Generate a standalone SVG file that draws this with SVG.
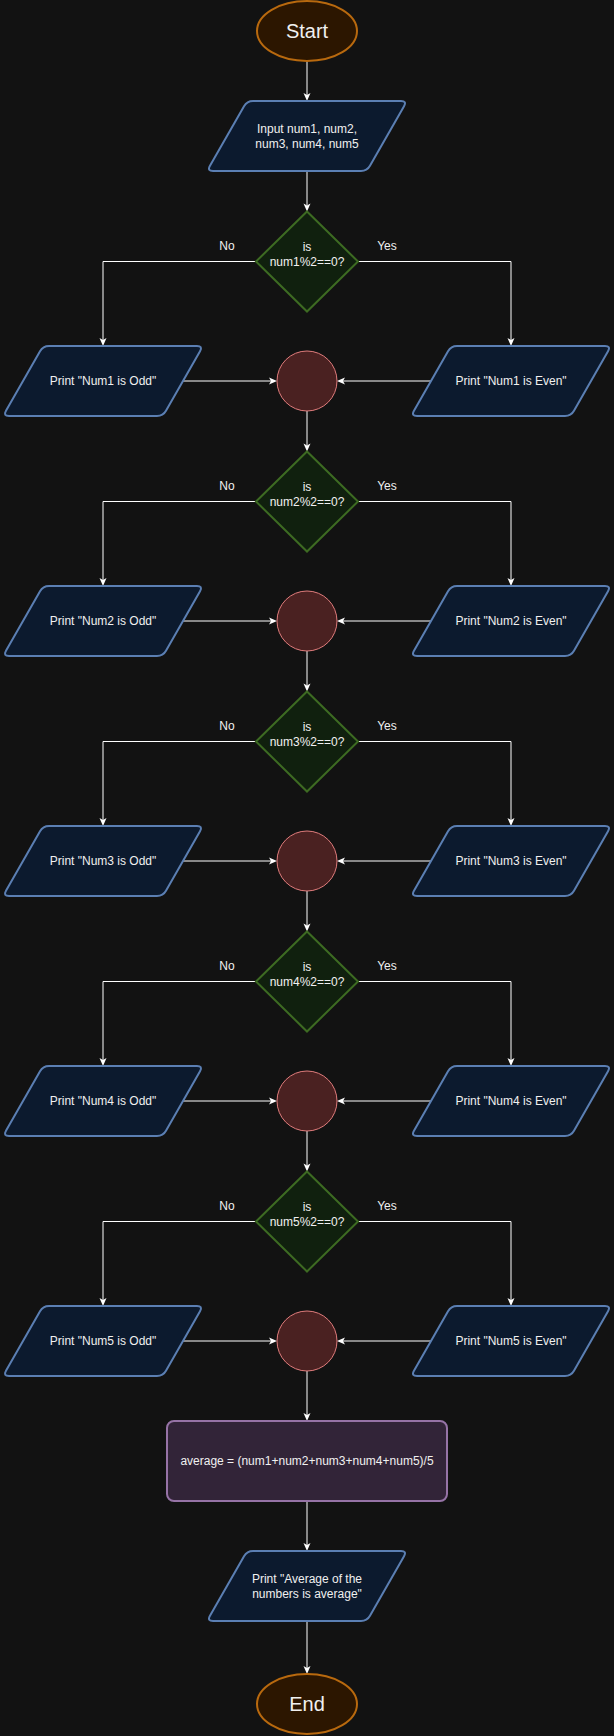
<svg xmlns="http://www.w3.org/2000/svg" xmlns:xlink="http://www.w3.org/1999/xlink" width="614" height="1736" viewBox="0 0 614 1736">
  <style>
    text { font-family: "Liberation Sans", Arial, sans-serif; font-size: 12px; fill: #f0f0f0; text-anchor: middle; }
    .big { font-size: 20px; }
    .term { fill: #2c1600; stroke: #b8690e; stroke-width: 2; }
    .io { fill: #0c1a2e; stroke: #5b7fb3; stroke-width: 2; }
    .dec { fill: #10200e; stroke: #3d6b22; stroke-width: 2; }
    .join { fill: #4a2121; stroke: #e07c7c; stroke-width: 1; }
    .proc { fill: #322438; stroke: #9673a6; stroke-width: 2; }
    .edge { fill: none; stroke: #ffffff; stroke-width: 1; marker-end: url(#arrow); }
  </style>
  <defs>
    <marker id="arrow" markerUnits="userSpaceOnUse" viewBox="-3 -5 12 10" refX="0" refY="0" markerWidth="12" markerHeight="10" orient="auto">
      <path d="M-2,-3.5 L6,0 L-2,3.5 L0,0 Z" fill="#ffffff"/>
    </marker>
    <!-- 200x70 parallelogram with rounded corners, centred on the origin -->
    <path id="para" d="M-54,-35 L94,-35 Q100,-35 97.02,-29.79 L62.98,29.79 Q60,35 54,35 L-94,35 Q-100,35 -97.02,29.79 L-62.98,-29.79 Q-60,-35 -54,-35 Z"/>
    <!-- decision diamond centred on the origin -->
    <polygon id="diamond" points="0,-50 51,0 0,50 -51,0"/>
  </defs>

  <rect x="0" y="0" width="614" height="1736" fill="#121212"/>

  <g id="connectors">
    <path class="edge" d="M307,61 V95"/>
    <path class="edge" d="M307,171 V205.5"/>
    <!-- check 1 -->
    <path class="edge" d="M256,261.5 H103 V340"/>
    <path class="edge" d="M358,261.5 H511 V340"/>
    <path class="edge" d="M183,381 H271"/>
    <path class="edge" d="M431,381 H343"/>
    <path class="edge" d="M307,411 V445.5"/>
    <!-- check 2 -->
    <path class="edge" d="M256,501.5 H103 V580"/>
    <path class="edge" d="M358,501.5 H511 V580"/>
    <path class="edge" d="M183,621 H271"/>
    <path class="edge" d="M431,621 H343"/>
    <path class="edge" d="M307,651 V685.5"/>
    <!-- check 3 -->
    <path class="edge" d="M256,741.5 H103 V820"/>
    <path class="edge" d="M358,741.5 H511 V820"/>
    <path class="edge" d="M183,861 H271"/>
    <path class="edge" d="M431,861 H343"/>
    <path class="edge" d="M307,891 V925.5"/>
    <!-- check 4 -->
    <path class="edge" d="M256,981.5 H103 V1060"/>
    <path class="edge" d="M358,981.5 H511 V1060"/>
    <path class="edge" d="M183,1101 H271"/>
    <path class="edge" d="M431,1101 H343"/>
    <path class="edge" d="M307,1131 V1165.5"/>
    <!-- check 5 -->
    <path class="edge" d="M256,1221.5 H103 V1300"/>
    <path class="edge" d="M358,1221.5 H511 V1300"/>
    <path class="edge" d="M183,1341 H271"/>
    <path class="edge" d="M431,1341 H343"/>
    <path class="edge" d="M307,1371 V1415"/>
    <!-- tail -->
    <path class="edge" d="M307,1501 V1545"/>
    <path class="edge" d="M307,1621 V1668"/>
    <!-- branch labels -->
    <text x="227" y="249.5">No</text><text x="387" y="249.5">Yes</text>
    <text x="227" y="489.5">No</text><text x="387" y="489.5">Yes</text>
    <text x="227" y="729.5">No</text><text x="387" y="729.5">Yes</text>
    <text x="227" y="969.5">No</text><text x="387" y="969.5">Yes</text>
    <text x="227" y="1209.5">No</text><text x="387" y="1209.5">Yes</text>
  </g>

  <g id="start">
    <ellipse class="term" cx="307" cy="31" rx="50" ry="30"/>
    <text class="big" x="307" y="38">Start</text>
  </g>

  <g id="input">
    <use href="#para" class="io" x="307" y="136"/>
    <text x="307" y="133">Input num1, num2,</text>
    <text x="307" y="147.5">num3, num4, num5</text>
  </g>

  <!-- check 1 -->
  <g id="check1">
    <use href="#diamond" class="dec" x="307" y="261.5"/>
    <text x="307" y="251">is</text>
    <text x="307" y="265.5">num1%2==0?</text>
  </g>
  <g id="odd1"><use href="#para" class="io" x="103" y="381"/><text x="103" y="385.3">Print "Num1 is Odd"</text></g>
  <g id="even1"><use href="#para" class="io" x="511" y="381"/><text x="511" y="385.3">Print "Num1 is Even"</text></g>
  <g id="join1"><circle class="join" cx="307" cy="381" r="30"/></g>

  <!-- check 2 -->
  <g id="check2">
    <use href="#diamond" class="dec" x="307" y="501.5"/>
    <text x="307" y="491">is</text>
    <text x="307" y="505.5">num2%2==0?</text>
  </g>
  <g id="odd2"><use href="#para" class="io" x="103" y="621"/><text x="103" y="625.3">Print "Num2 is Odd"</text></g>
  <g id="even2"><use href="#para" class="io" x="511" y="621"/><text x="511" y="625.3">Print "Num2 is Even"</text></g>
  <g id="join2"><circle class="join" cx="307" cy="621" r="30"/></g>

  <!-- check 3 -->
  <g id="check3">
    <use href="#diamond" class="dec" x="307" y="741.5"/>
    <text x="307" y="731">is</text>
    <text x="307" y="745.5">num3%2==0?</text>
  </g>
  <g id="odd3"><use href="#para" class="io" x="103" y="861"/><text x="103" y="865.3">Print "Num3 is Odd"</text></g>
  <g id="even3"><use href="#para" class="io" x="511" y="861"/><text x="511" y="865.3">Print "Num3 is Even"</text></g>
  <g id="join3"><circle class="join" cx="307" cy="861" r="30"/></g>

  <!-- check 4 -->
  <g id="check4">
    <use href="#diamond" class="dec" x="307" y="981.5"/>
    <text x="307" y="971">is</text>
    <text x="307" y="985.5">num4%2==0?</text>
  </g>
  <g id="odd4"><use href="#para" class="io" x="103" y="1101"/><text x="103" y="1105.3">Print "Num4 is Odd"</text></g>
  <g id="even4"><use href="#para" class="io" x="511" y="1101"/><text x="511" y="1105.3">Print "Num4 is Even"</text></g>
  <g id="join4"><circle class="join" cx="307" cy="1101" r="30"/></g>

  <!-- check 5 -->
  <g id="check5">
    <use href="#diamond" class="dec" x="307" y="1221.5"/>
    <text x="307" y="1211">is</text>
    <text x="307" y="1225.5">num5%2==0?</text>
  </g>
  <g id="odd5"><use href="#para" class="io" x="103" y="1341"/><text x="103" y="1345.3">Print "Num5 is Odd"</text></g>
  <g id="even5"><use href="#para" class="io" x="511" y="1341"/><text x="511" y="1345.3">Print "Num5 is Even"</text></g>
  <g id="join5"><circle class="join" cx="307" cy="1341" r="30"/></g>

  <g id="average">
    <rect class="proc" x="167" y="1421" width="280" height="80" rx="7" ry="7"/>
    <text x="307" y="1465.3">average = (num1+num2+num3+num4+num5)/5</text>
  </g>

  <g id="output">
    <use href="#para" class="io" x="307" y="1586"/>
    <text x="307" y="1583">Print "Average of the</text>
    <text x="307" y="1597.5">numbers is average"</text>
  </g>

  <g id="end">
    <ellipse class="term" cx="307" cy="1704" rx="50" ry="30"/>
    <text class="big" x="307" y="1711">End</text>
  </g>
</svg>
